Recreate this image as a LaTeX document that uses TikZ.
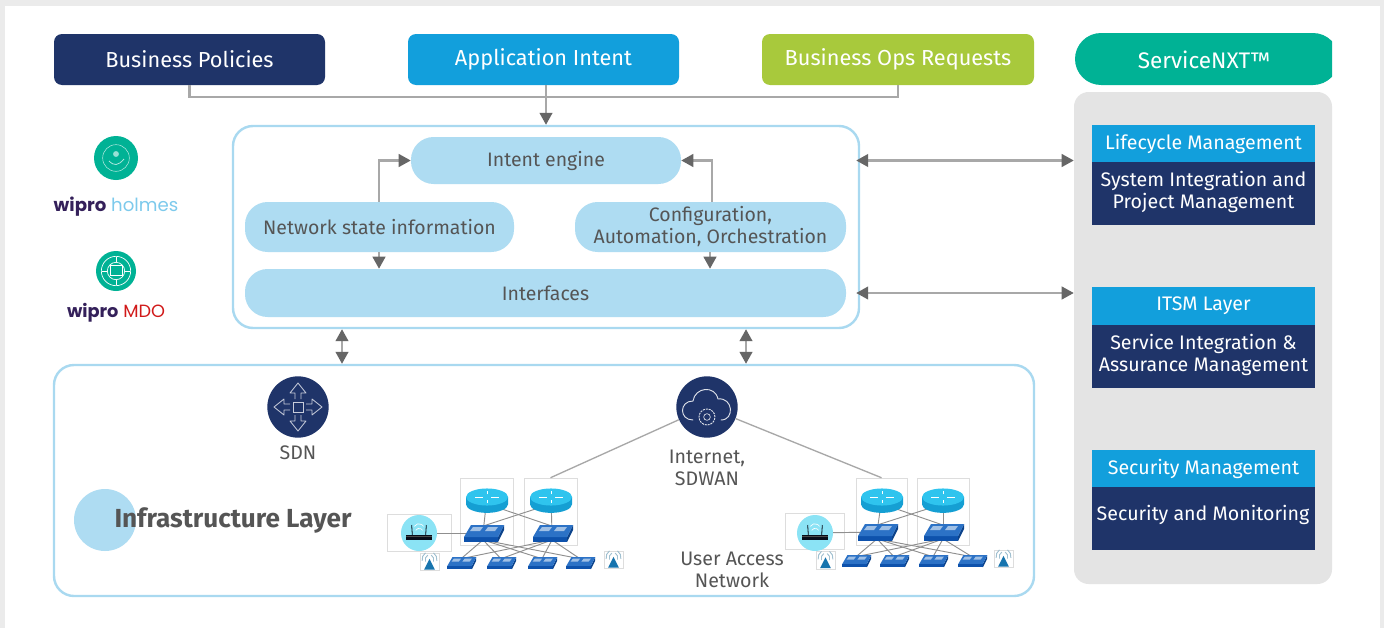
\documentclass[tikz,border=0pt]{standalone}
\usepackage{fontspec}
\setmainfont{Fira Sans}
\newfontfamily\wipfont{Poppins}
\usetikzlibrary{arrows.meta}
\definecolor{navy}{HTML}{1F3469}
\definecolor{skyb}{HTML}{129FDC}
\definecolor{limeg}{HTML}{A8C93C}
\definecolor{tealg}{HTML}{00B295}
\definecolor{pill}{HTML}{AEDCF2}
\definecolor{edgeb}{HTML}{A9D9F0}
\definecolor{wiregray}{HTML}{A8A8A8}
\definecolor{tipgray}{HTML}{666666}
\definecolor{txtgray}{HTML}{555555}
\definecolor{panelg}{HTML}{E4E4E4}
\definecolor{faint}{HTML}{DDDDDD}
\definecolor{rtop}{HTML}{2FC4EE}
\definecolor{rbody}{HTML}{159FD3}
\definecolor{swtop}{HTML}{2C72C6}
\definecolor{swfront}{HTML}{0E52AC}
\definecolor{wippurple}{HTML}{34205A}
\tikzset{
  wire/.style={draw=wiregray,line width=1.6pt},
  thinwire/.style={draw=wiregray!85!black,line width=0.7pt},
  arrowwire/.style={wire,-{Triangle[length=9pt,width=9.5pt,color=tipgray]}},
  dblwire/.style={wire,{Triangle[length=9pt,width=9.5pt,color=tipgray]}-{Triangle[length=9pt,width=9.5pt,color=tipgray]}},
  basebox/.style={inner sep=0pt,align=center},
  topbox/.style={basebox,rounded corners=6pt,text=white,font=\fontsize{16.3}{19}\selectfont},
  pillbox/.style={basebox,fill=pill,rounded corners=17pt,text=txtgray,font=\fontsize{14.6}{16.5}\selectfont},
  framebox/.style={basebox,draw=edgeb,line width=1.8pt,fill=white,rounded corners=15pt},
  headbox/.style={basebox,fill=skyb,text=white,font=\fontsize{14.7}{16.5}\selectfont},
  bodybox/.style={basebox,fill=navy,text=white,font=\fontsize{14.7}{16.5}\selectfont},
  iconbox/.style={basebox,draw=faint,line width=0.4pt,fill=white},
  anchorpt/.style={basebox,minimum width=20pt,minimum height=10pt},
  plain/.style={inner sep=0pt,align=center,text=txtgray,font=\fontsize{14.7}{16.5}\selectfont},
}
\newcommand{\bx}[7]{%
  \pgfmathsetmacro\cxx{(#3+#5)/2}\pgfmathsetmacro\cyy{(#4+#6)/2}%
  \node[#1,minimum width={(#5-#3)*0.75pt},minimum height={(#6-#4)*0.75pt}] (#2) at (\cxx,\cyy) {#7};}
\newcommand{\stk}[2]{\raisebox{#1}{\begin{tabular}{@{}c@{}}#2\end{tabular}}}
\newcommand{\routerat}[1]{%
  \begin{scope}[shift={(#1)}]
    \fill[rbody] (-15.75pt,0pt) -- (-15.75pt,-5.5pt) arc[start angle=180,end angle=360,x radius=15.75pt,y radius=6.4pt] -- (15.75pt,0pt) -- cycle;
    \fill[rtop] (0pt,0pt) ellipse[x radius=15.75pt,y radius=6.4pt];
    \draw[white,line width=0.6pt] (-9pt,0pt)--(-3pt,0pt) (3pt,0pt)--(9pt,0pt) (0pt,-4.5pt)--(0pt,-2pt) (0pt,2pt)--(0pt,4.5pt);
  \end{scope}}
\newcommand{\switchat}[2]{%
  \begin{scope}[shift={(#1)},scale=#2]
    \fill[swfront] (-19,4)--(15,4)--(15,9)--(-19,9)--cycle;
    \fill[swfront!80!black] (15,4)--(21,-8)--(21,-3)--(15,9)--cycle;
    \fill[swtop] (-19,4)--(-12,-8)--(21,-8)--(15,4)--cycle;
    \fill[white!55!swtop] (-13,-2)--(-10,-6)--(0,-6)--(-3,-2)--cycle (2,-2)--(5,-6)--(15,-6)--(12,-2)--cycle;
  \end{scope}}
\newcommand{\apat}[1]{%
  \begin{scope}[shift={(#1)}]
    \fill[pill!80!cyan] (0pt,0pt) circle[radius=13.5pt];
    \fill[black!75!navy] (-9.5pt,-5pt) rectangle (9.5pt,-1.5pt);
    \fill[gray!60!black] (-9.5pt,-3pt) rectangle (9.5pt,-2.2pt);
    \draw[black!75!navy,line width=0.6pt] (-5pt,-1.5pt)--(-5.5pt,6pt) (5pt,-1.5pt)--(5.5pt,6pt);
    \draw[white,line width=0.5pt] (-2.5pt,2pt) arc[start angle=150,end angle=30,radius=3pt];
    \draw[white,line width=0.5pt] (-3.5pt,5pt) arc[start angle=150,end angle=30,radius=4pt];
  \end{scope}}
\newcommand{\antennaat}[1]{%
  \begin{scope}[shift={(#1)}]
    \fill[navy!40!skyb] (0pt,2pt)--(4pt,-6pt)--(-4pt,-6pt)--cycle;
    \draw[pill!70!gray,line width=0.7pt] (-3pt,0pt) arc[start angle=200,end angle=120,radius=4pt] (3pt,0pt) arc[start angle=-20,end angle=60,radius=4pt];
    \draw[pill!70!gray,line width=0.7pt] (-5.5pt,0.5pt) arc[start angle=190,end angle=125,radius=6pt] (5.5pt,0.5pt) arc[start angle=-10,end angle=55,radius=6pt];
  \end{scope}}
\begin{document}
\begin{tikzpicture}[x=0.75pt,y=-0.75pt]
\useasboundingbox (0,0) rectangle (1384,628);
\fill[black!8] (0,0) rectangle (1384,628);
\fill[white] (5,6) rectangle (1380,628);

% top row
\bx{topbox,fill=navy}{bp}{54}{34}{325}{85}{Business Policies}
\bx{topbox,fill=skyb}{ai}{408}{34}{679}{85}{\raisebox{-1pt}{Application Intent}}
\bx{topbox,fill=limeg}{ops}{762}{34}{1034}{85}{\raisebox{-1pt}{Business Ops Requests}}

% ServiceNXT
\begin{scope}
  \clip (1070,30) rectangle (1332,90);
  \fill[tealg,rounded corners=19.5pt] (1075,33) rectangle (1339,85);
\end{scope}
\node[inner sep=0pt,text=white,font=\fontsize{16.9}{19}\selectfont] (snxt) at (1204,59.5) {ServiceNXT™};

% panel
\bx{basebox,fill=panelg,rounded corners=11pt}{panel}{1074}{92}{1332}{584}{}
\bx{headbox}{h1}{1092}{125}{1315}{162}{\raisebox{-1pt}{Lifecycle Management}}
\bx{bodybox}{b1}{1092}{162}{1315}{225}{\stk{1.4pt}{System Integration and\\Project Management}}
\bx{headbox}{h2}{1092}{287}{1315}{325}{\raisebox{-1pt}{ITSM Layer}}
\bx{bodybox}{b2}{1092}{325}{1315}{388}{\stk{1.4pt}{Service Integration \&\\Assurance Management}}
\bx{headbox}{h3}{1092}{450}{1315}{487}{\raisebox{-1pt}{Security Management}}
\bx{bodybox}{b3}{1092}{487}{1315}{550}{}
\node[plain,text=white] (b3t) at (1203,515) {Security and Monitoring};

% main frame
\bx{framebox}{main}{233}{126}{859}{328}{}
\bx{pillbox}{intent}{411}{137}{681}{184}{\raisebox{-1pt}{Intent engine}}
\bx{pillbox}{nsi}{245}{202}{514}{252}{Network state information}
\bx{pillbox}{cfg}{575}{202}{846}{252}{Configuration,\\Automation, Orchestration}
\bx{pillbox}{ifc}{245}{269}{846}{317}{Interfaces}

% infrastructure frame
\bx{framebox}{infra}{54}{365}{1034}{596}{}

% helper coordinates for connector positions
\coordinate (xa) at (379,0);
\coordinate (xb) at (712,0);
\coordinate (xc) at (710,0);
\coordinate (xd) at (342,0);
\coordinate (xe) at (746,0);

% top connectors
\draw[wire] (bp.south) -- ++(0,12) -| (ops.south);
\draw[arrowwire] (ai.south -| main.north) -- (main.north);

% inner connectors
\draw[arrowwire] (xa |- nsi.north) |- (intent.west);
\draw[arrowwire] (xb |- cfg.north) |- (intent.east);
\draw[arrowwire] (xa |- nsi.south) -- (xa |- ifc.north);
\draw[arrowwire] (xc |- cfg.south) -- (xc |- ifc.north);
\draw[dblwire] (xd |- main.south) -- (xd |- infra.north);
\draw[dblwire] (xe |- main.south) -- (xe |- infra.north);
\draw[dblwire,shorten <=-3pt] (intent -| main.east) -- (intent -| panel.west);
\draw[dblwire,shorten <=-3pt] (ifc -| main.east) -- (ifc -| panel.west);

% logos
\node[circle,fill=tealg,minimum size=33pt,inner sep=0pt] (holm) at (116,158) {};
\draw[white!70!tealg,line width=0.4pt] (holm) circle[radius=10pt];
\draw[white!70!tealg,line width=0.6pt] (109,161) .. controls (114,166) and (118,166) .. (124,159);
\fill[white!60!tealg] (116,154) circle[radius=2.2pt];
\node[inner sep=0pt,font=\wipfont\fontsize{13.6}{17}\selectfont] (holmt) at (116,206.5) {\textcolor{wippurple}{\textbf{wipro}} \textcolor{skyb!55!white}{holmes}};
\node[circle,fill=tealg,minimum size=30pt,inner sep=0pt] (mdo) at (116,271) {};
\draw[white,line width=0.5pt] (mdo) circle[radius=11pt];
\draw[white,line width=0.5pt] (mdo) circle[radius=6.5pt];
\draw[white,line width=0.5pt] (116,257)--(116,262) (116,280)--(116,285) (102,271)--(107,271) (125,271)--(130,271);
\fill[tealg] (110,265) rectangle (122,277);
\draw[white,line width=0.6pt] (110,265) rectangle (122,275);
\node[inner sep=0pt,font=\wipfont\fontsize{13.3}{17}\selectfont] (mdot) at (116,313) {\textcolor{wippurple}{\textbf{wipro}} \textcolor{red!80!black!90!white}{MDO}};

% SDN
\node[circle,fill=navy,minimum size=46pt,inner sep=0pt] (sdn) at (298,407) {};
\begin{scope}[shift={(sdn)}]
  \draw[white!75!navy,line width=0.6pt] (-5,-5) rectangle (5,5);
  \foreach \a in {0,90,180,270}{
    \begin{scope}[rotate=\a]
      \draw[white!75!navy,line width=0.6pt,line join=round] (8,-3)--(14,-3)--(14,-8)--(24,0)--(14,8)--(14,3)--(8,3);
    \end{scope}
  }
\end{scope}
\node[plain] (sdnt) at (298,453) {SDN};

% cloud
\node[circle,fill=navy,minimum size=46pt,inner sep=0pt] (cloud) at (707,407) {};
\begin{scope}[shift={(cloud)}]
  \draw[white!85!navy,line width=0.7pt,line cap=round] (-14,13) .. controls (-28,13) and (-28,-6) .. (-14,-6) .. controls (-12,-20) and (8,-22) .. (11,-8) .. controls (26,-10) and (28,13) .. (14,13);
  \draw[white!85!navy,line width=0.7pt,dash pattern=on 1.5pt off 0.7pt] (0,10) circle[radius=6pt];
  \draw[white!85!navy,line width=0.5pt] (0,10) circle[radius=2.5pt];
\end{scope}
\node[plain] (cloudt) at (707,468) {Internet,\\SDWAN};

% infrastructure label
\node[circle,fill=pill,minimum size=46.5pt,inner sep=0pt] (infc) at (105,520) {};
\node[inner sep=0pt,text=txtgray,font=\fontsize{19.6}{23}\selectfont\bfseries] (inft) at (233,520.5) {Infrastructure Layer};
\node[plain] (uan) at (732,570) {User Access\\Network};

% left cluster: white boxes
\bx{iconbox}{lbr1}{460}{478}{513}{545}{}
\bx{iconbox}{lbr2}{524}{478}{577}{545}{}
\bx{iconbox}{lap}{387}{514}{451}{551}{}
\bx{iconbox}{lan1}{420}{553}{439}{570}{}
\bx{iconbox}{lan2}{604}{551}{623}{568}{}
% left cluster: device positions
\node[anchorpt] (lr1) at (487,497) {};
\node[anchorpt] (lr2) at (551,497) {};
\node[anchorpt] (ls1) at (483,533) {};
\node[anchorpt] (ls2) at (552,533) {};
\node[anchorpt] (lw) at (419,533) {};
\node[anchorpt,minimum width=16pt,minimum height=6pt] (lt1) at (461,563) {};
\node[anchorpt,minimum width=16pt,minimum height=6pt] (lt2) at (501,563) {};
\node[anchorpt,minimum width=16pt,minimum height=6pt] (lt3) at (542,563) {};
\node[anchorpt,minimum width=16pt,minimum height=6pt] (lt4) at (580,563) {};
% left cluster: links
\draw[thinwire] (lw) -- (ls1);
\draw[thinwire] (lr1) -- (ls1);
\draw[thinwire] (lr2) -- (ls2);
\draw[thinwire] (lr1.south) -- (ls2.north);
\draw[thinwire] (lr2.south) -- (ls1.north);
\foreach \t in {lt1,lt2,lt3,lt4}{
  \draw[thinwire] (ls1.south) -- (\t.north);
  \draw[thinwire] (ls2.south) -- (\t.north);
}
\routerat{lr1.center}\routerat{lr2.center}
\switchat{ls1.center}{1}\switchat{ls2.center}{1}
\apat{lw.center}
\foreach \t in {lt1,lt2,lt3,lt4}{\switchat{\t.center}{0.72}}
\antennaat{lan1.center}\antennaat{lan2.center}

% right cluster: white boxes
\bx{iconbox}{rbr1}{856}{478}{907}{545}{}
\bx{iconbox}{rbr2}{917}{478}{969}{545}{}
\bx{iconbox}{rap}{785}{513}{844}{549}{}
\bx{iconbox}{ran1}{816}{551}{835}{569}{}
\bx{iconbox}{ran2}{994}{550}{1013}{567}{}
% right cluster: device positions
\node[anchorpt] (rr1) at (882,497) {};
\node[anchorpt] (rr2) at (943,497) {};
\node[anchorpt] (rs1) at (877,532) {};
\node[anchorpt] (rs2) at (943,532) {};
\node[anchorpt] (rw) at (815,533) {};
\node[anchorpt,minimum width=16pt,minimum height=6pt] (rt1) at (856,561) {};
\node[anchorpt,minimum width=16pt,minimum height=6pt] (rt2) at (894,561) {};
\node[anchorpt,minimum width=16pt,minimum height=6pt] (rt3) at (933,561) {};
\node[anchorpt,minimum width=16pt,minimum height=6pt] (rt4) at (972,561) {};
% right cluster: links
\draw[thinwire] (rw) -- (rs1);
\draw[thinwire] (rr1) -- (rs1);
\draw[thinwire] (rr2) -- (rs2);
\draw[thinwire] (rr1.south) -- (rs2.north);
\draw[thinwire] (rr2.south) -- (rs1.north);
\foreach \t in {rt1,rt2,rt3,rt4}{
  \draw[thinwire] (rs1.south) -- (\t.north);
  \draw[thinwire] (rs2.south) -- (\t.north);
}
\routerat{rr1.center}\routerat{rr2.center}
\switchat{rs1.center}{1}\switchat{rs2.center}{1}
\apat{rw.center}
\foreach \t in {rt1,rt2,rt3,rt4}{\switchat{\t.center}{0.72}}
\antennaat{ran1.center}\antennaat{ran2.center}

% WAN links
\draw[wire,line width=1pt] (cloud) -- (lbr2.north);
\draw[wire,line width=1pt] (cloud) -- (rbr1.north);
\end{tikzpicture}
\end{document}
